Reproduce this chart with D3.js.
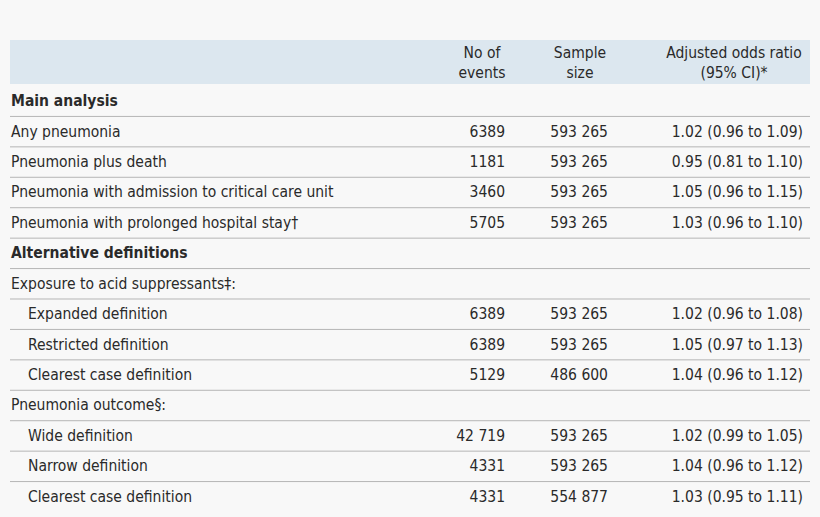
<!DOCTYPE html>
<html><head><meta charset="utf-8">
<script src="https://cdn.jsdelivr.net/npm/d3@7"></script>
<style>
body{margin:0;background:#f8f8f8;}
text{font-family:"Liberation Sans Narrow","DejaVu Sans Condensed","Roboto",sans-serif;font-size:15.5px;fill:#2a2a2a;}
</style></head><body>
<svg id="chart" width="820" height="517"></svg>
<script>
const headers = [["No of", "events"], ["Sample", "size"], ["Adjusted odds ratio", "(95% CI)*"]];
const labels = ["Main analysis", "Any pneumonia", "Pneumonia plus death", "Pneumonia with admission to critical care unit",
  "Pneumonia with prolonged hospital stay†", "Alternative definitions", "Exposure to acid suppressants‡:",
  "Expanded definition", "Restricted definition", "Clearest case definition", "Pneumonia outcome§:",
  "Wide definition", "Narrow definition", "Clearest case definition"];
const kinds = ["section","row","row","row","row","section","sub","indent","indent","indent","sub","indent","indent","indent"];
const events = ["", "6389", "1181", "3460", "5705", "", "", "6389", "6389", "5129", "", "42 719", "4331", "4331"];
const samples = ["", "593 265", "593 265", "593 265", "593 265", "", "", "593 265", "593 265", "486 600", "", "593 265", "593 265", "554 877"];
const ors = ["", "1.02 (0.96 to 1.09)", "0.95 (0.81 to 1.10)", "1.05 (0.96 to 1.15)", "1.03 (0.96 to 1.10)", "", "",
  "1.02 (0.96 to 1.08)", "1.05 (0.97 to 1.13)", "1.04 (0.96 to 1.12)", "", "1.02 (0.99 to 1.05)", "1.04 (0.96 to 1.12)", "1.03 (0.95 to 1.11)"];

const svg = d3.select("#chart");
const left = 10, right = 810;
const y = d3.scaleBand().domain(d3.range(labels.length)).range([86, 512]).paddingInner(0);

svg.append("rect").attr("x", left).attr("y", 40).attr("width", right - left).attr("height", 44).attr("fill", "#dce7ef");
const hx = [482, 580, 734];
headers.forEach((h, i) => {
  h.forEach((t, j) => svg.append("text").attr("x", hx[i]).attr("y", 58 + j * 20)
    .attr("text-anchor", "middle").text(t));
});

const rows = svg.selectAll("g.row").data(labels).join("g").attr("class", "row")
  .attr("transform", (d, i) => `translate(0,${y(i)})`);
const bh = y.bandwidth();
rows.append("text").attr("x", (d, i) => kinds[i] === "indent" ? 28 : left + 1).attr("y", bh / 2 + 5)
  .attr("font-weight", (d, i) => kinds[i] === "section" ? "bold" : null).text(d => d);
rows.append("text").attr("x", 505).attr("y", bh / 2 + 5).attr("text-anchor", "end").text((d, i) => events[i]);
rows.append("text").attr("x", 608).attr("y", bh / 2 + 5).attr("text-anchor", "end").text((d, i) => samples[i]);
rows.append("text").attr("x", 803).attr("y", bh / 2 + 5).attr("text-anchor", "end").text((d, i) => ors[i]);
rows.filter((d, i) => i < labels.length - 1).append("line")
  .attr("x1", left).attr("x2", right).attr("y1", bh).attr("y2", bh)
  .attr("stroke", "#b5b5b5").attr("stroke-width", 1);
</script></body></html>
